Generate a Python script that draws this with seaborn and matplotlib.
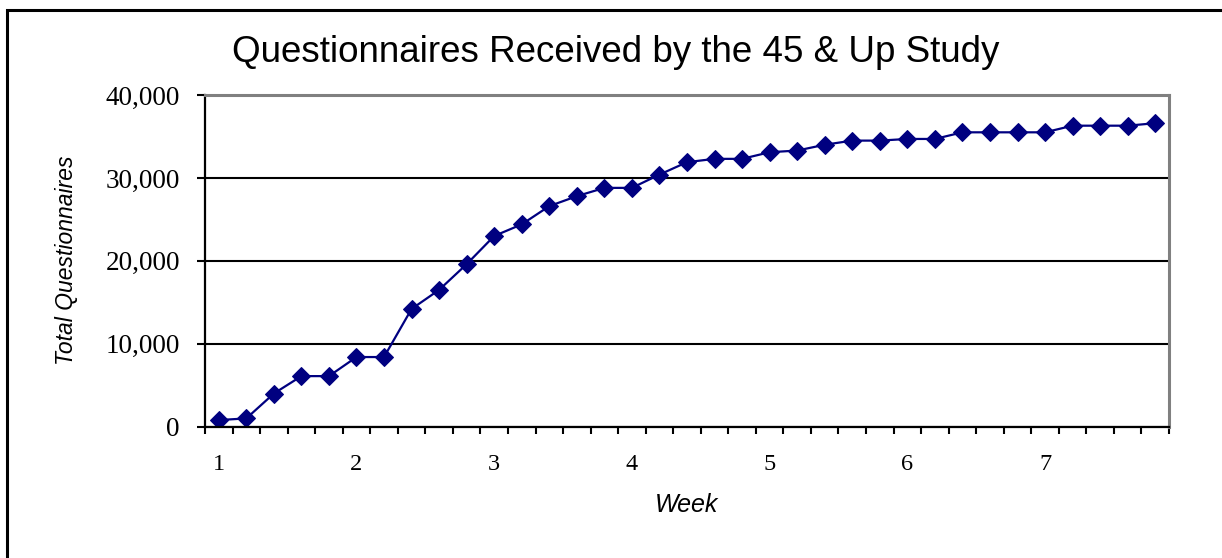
import matplotlib
matplotlib.use("Agg")
import matplotlib.pyplot as plt
import matplotlib.patches as mpatches
from matplotlib.ticker import FuncFormatter
import seaborn as sns
import pandas as pd

# ---- data ----
day_index = list(range(35))  # 5 mailing days per week, weeks 1-7
total_questionnaires = [800, 1000, 4000, 6100, 6100, 8400, 8400, 14200, 16500, 19600,
                        23000, 24400, 26600, 27800, 28800, 28800, 30400, 31900, 32300, 32300,
                        33100, 33300, 34000, 34500, 34500, 34700, 34700, 35500, 35500, 35500,
                        35500, 36300, 36300, 36300, 36600]
week_labels = ["1", "2", "3", "4", "5", "6", "7"]
week_label_pos = [0, 5, 10, 15, 20, 25, 30]
y_ticks = [0, 10000, 20000, 30000, 40000]

title = "Questionnaires Received by the 45 & Up Study"
x_label = "Week"
y_label = "Total Questionnaires"

df = pd.DataFrame({"day": day_index, "total": total_questionnaires})

sns.set_style("white")
plt.rcParams["font.family"] = ["Liberation Sans", "DejaVu Sans"]
plt.rcParams["text.color"] = "black"
plt.rcParams["xtick.color"] = "black"
plt.rcParams["ytick.color"] = "black"

W, H = 1222, 558
fig = plt.figure(figsize=(W / 100, H / 100), dpi=100)
ax = fig.add_axes([205 / W, 1 - 426.7 / H, (1169 - 205) / W, (426.7 - 95) / H])

sns.lineplot(data=df, x="day", y="total", ax=ax, color="#000080", marker="D",
             markersize=9, markeredgecolor="#000080", linewidth=1.6)

ax.set_xlim(-0.5, len(day_index) - 0.5)
ax.set_ylim(0, 40000)

# gridlines
ax.set_yticks(y_ticks)
ax.yaxis.set_major_formatter(FuncFormatter(lambda v, p: f"{int(v):,}"))
ax.grid(axis="y", color="black", linewidth=1.5)
ax.set_axisbelow(True)

# x ticks at category boundaries, labels every week
ax.set_xticks([i - 0.5 for i in range(len(day_index) + 1)])
ax.set_xticklabels([])
ax.set_xticks(week_label_pos, minor=True)
ax.set_xticklabels(week_labels, minor=True)
ax.tick_params(axis="x", which="major", direction="out", length=5, width=1.5, color="black", bottom=True)
ax.tick_params(axis="x", which="minor", length=0, pad=20, labelcolor="black")
ax.tick_params(axis="y", direction="out", length=6, width=1.5, color="black", left=True, pad=12,
               labelcolor="black")

for lbl in ax.get_xticklabels(minor=True):
    lbl.set_fontfamily("Liberation Serif")
    lbl.set_fontsize(17.5)
for lbl in ax.get_yticklabels():
    lbl.set_fontfamily("Liberation Serif")
    lbl.set_fontsize(19.5)

ax.set_xlabel("")
ax.set_ylabel("")

for side in ["left", "bottom"]:
    ax.spines[side].set_color("black")
    ax.spines[side].set_linewidth(1.6)
for side in ["top", "right"]:
    ax.spines[side].set_color("#808080")
    ax.spines[side].set_linewidth(2.2)
    ax.spines[side].set_visible(True)

fig.text(616 / W, 1 - 52 / H, title, ha="center", va="center", fontsize=26.5, color="black")
fig.text(687 / W, 1 - 505 / H, x_label, ha="center", va="center", fontsize=18, style="italic",
         color="black")
fig.text(66 / W, 1 - 260 / H, y_label, ha="center", va="center", fontsize=16.5, style="italic",
         rotation=90, color="black")

# chart area border (cropped on right/bottom)
frame = mpatches.Rectangle((7 / W, -0.1), 1.2, 1 - 10 / H + 0.1, transform=fig.transFigure,
                           fill=False, edgecolor="black", linewidth=2.2)
fig.patches.append(frame)

fig.savefig("out.png", dpi=100)
